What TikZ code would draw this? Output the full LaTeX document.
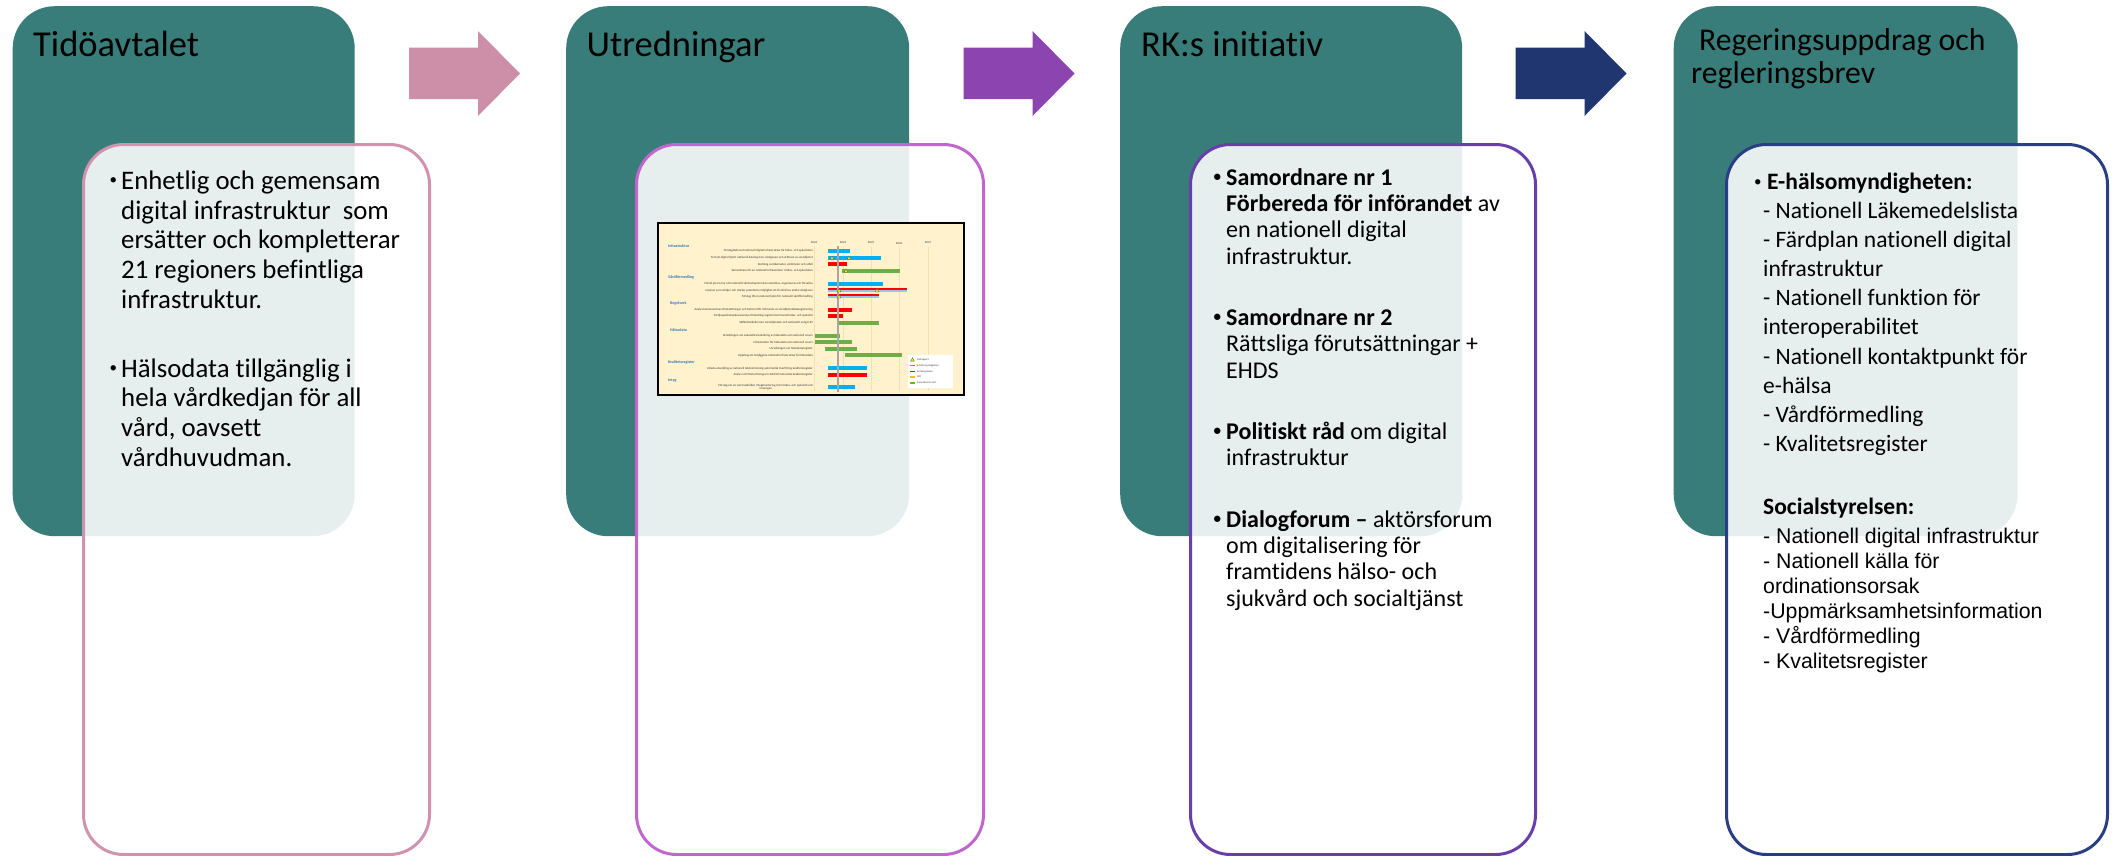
\documentclass[tikz,border=0pt]{standalone}
\usepackage{fontspec}
\setmainfont{Carlito}[Ligatures=NoCommon]
\newfontfamily\arialf{Liberation Sans}[Ligatures=NoCommon]
\definecolor{tealc}{RGB}{56,125,121}
\definecolor{arrA}{RGB}{204,143,167}
\definecolor{arrB}{RGB}{139,68,176}
\definecolor{arrC}{RGB}{32,54,112}
\definecolor{bordA}{RGB}{208,146,172}
\definecolor{bordB}{RGB}{192,102,204}
\definecolor{bordC}{RGB}{104,62,168}
\definecolor{bordD}{RGB}{42,62,132}
\definecolor{chbg}{RGB}{255,242,204}
\definecolor{chgrid}{RGB}{240,224,180}
\definecolor{chblue}{RGB}{0,176,240}
\definecolor{chred}{RGB}{255,0,0}
\definecolor{chgreen}{RGB}{112,173,71}
\definecolor{chlblue}{RGB}{157,195,230}
\definecolor{chhead}{RGB}{46,117,182}
\definecolor{chorange}{RGB}{255,192,0}
\definecolor{chtext}{RGB}{55,55,55}
\newcommand\linesat[6]{\foreach \ln [count=\k] in {#6} {\node[#1] (#2\k) at (#3,{#4+(\k-1)*#5}) {\ln};}}
\newcommand\cbar[4]{\fill[#4] (#1,{#3-2}) rectangle (#2,{#3+2});}
\newcommand\sbar[3]{\fill[chred] (#1,{#3-2}) rectangle (#2,#3);\fill[chlblue] (#1,#3) rectangle (#2,{#3+2});}
\newcommand\ctri[2]{\filldraw[fill=yellow,draw=black!70,line width=.3pt] ({#1-1.8},{#2+1.6}) -- ({#1+1.8},{#2+1.6}) -- (#1,{#2-1.8}) -- cycle;}
\newcommand\smalldot[1]{\raisebox{#1}{\fontsize{15}{15}\selectfont •}}
\begin{document}
\begin{tikzpicture}[x=1pt,y=-1pt,
  tealbox/.style={fill=tealc,draw=none,rounded corners=42pt,minimum height=530pt,anchor=north west,inner sep=0pt},
  card/.style={fill=white,fill opacity=0.88,line width=3pt,rounded corners=40pt,minimum height=710pt,anchor=north west,inner sep=0pt},
  title/.style={font=\fontsize{36.5}{40}\selectfont,anchor=base west,inner sep=0pt},
  titleb/.style={font=\fontsize{31.7}{34}\selectfont,anchor=base west,inner sep=0pt},
  bodyA/.style={font=\fontsize{26.8}{30}\selectfont,anchor=base west,inner sep=0pt},
  bodyB/.style={font=\fontsize{24}{27}\selectfont,anchor=base west,inner sep=0pt},
  bodyC/.style={font=\fontsize{23.5}{27}\selectfont,anchor=base west,inner sep=0pt},
  bodyD/.style={font=\arialf\fontsize{21.3}{24}\selectfont,anchor=base west,inner sep=0pt},
  bul/.style={anchor=base west,inner sep=0pt},
  chh/.style={font=\bfseries\fontsize{4}{4.5}\selectfont,text=chhead,anchor=west,inner sep=0pt},
  chl/.style={font=\fontsize{3.1}{3.4}\selectfont,text=chtext,anchor=east,inner sep=0pt},
  chy/.style={font=\fontsize{3}{3.3}\selectfont,text=chtext,inner sep=0pt},
  chg/.style={font=\fontsize{2.6}{3}\selectfont,text=chtext,anchor=west,inner sep=0pt}]
\fill[white] (0,0) rectangle (2113,855);
\useasboundingbox (0,0) rectangle (2113,855);
% teal panels
\node[tealbox,minimum width=342pt] (teal1) at (12.5,6) {};
\node[tealbox,minimum width=343pt] (teal2) at (566,6) {};
\node[tealbox,minimum width=342pt] (teal3) at (1120,6) {};
\node[tealbox,minimum width=344pt] (teal4) at (1673.5,6) {};
% cards
\node[card,draw=bordA,minimum width=346pt] (card1) at (82,143) {};
\node[card,draw=bordB,minimum width=347pt] (card2) at (635,143) {};
\node[card,draw=bordC,minimum width=345pt] (card3) at (1189,143) {};
\node[card,draw=bordD,minimum width=381pt] (card4) at (1725,143) {};
% block arrows
\foreach \ax/\ac in {409/arrA,963.5/arrB,1515.5/arrC}
  \fill[\ac,shift={(\ax,0)}] (0,47.5) -- (69,47.5) -- (69,31) -- (111,73.5) -- (69,116) -- (69,99) -- (0,99) -- cycle;
% titles
\node[title] (h1) at (33,56) {Tidöavtalet};
\node[title] (h2) at (586.5,56) {Utredningar};
\node[title] (h3) at (1141,56) {RK:s initiativ};
\node[titleb] (h4a) at (1699,50) {Regeringsuppdrag och};
\node[titleb] (h4b) at (1691,83) {regleringsbrev};
% panel 1 text
\node[bul] (p1dot1) at (109.5,189.3) {\smalldot{4.4pt}};
\linesat{bodyA}{pa}{121}{189.3}{29.7}{Enhetlig och gemensam, digital infrastruktur\ \ som, ersätter och kompletterar, 21 regioners befintliga, infrastruktur.}
\node[bul] (p1dot2) at (109.5,377) {\smalldot{4.4pt}};
\linesat{bodyA}{pb}{121}{377}{29.7}{Hälsodata tillgänglig i, hela vårdkedjan för all, {vård, oavsett}, vårdhuvudman.}
% panel 3 text
\node[bul] (p3dot1) at (1213.5,185) {\bfseries\smalldot{3.8pt}};
\linesat{bodyB}{qa}{1226}{185}{26.4}{\textbf{Samordnare nr 1}, \textbf{Förbereda för införandet} av, en nationell digital, infrastruktur.}
\node[bul] (p3dot2) at (1213.5,325.5) {\bfseries\smalldot{3.8pt}};
\linesat{bodyB}{qb}{1226}{325.5}{26.4}{\textbf{Samordnare nr 2}, Rättsliga förutsättningar +, EHDS}
\node[bul] (p3dot3) at (1213.5,439.5) {\bfseries\smalldot{3.8pt}};
\linesat{bodyB}{qc}{1226}{439.5}{26.4}{\textbf{Politiskt råd} om digital, infrastruktur}
\node[bul] (p3dot4) at (1213.5,527) {\bfseries\smalldot{3.8pt}};
\linesat{bodyB}{qd}{1226}{527}{26.4}{\textbf{Dialogforum –} aktörsforum, om digitalisering för, framtidens hälso- och, sjukvård och socialtjänst}
% panel 4 text
\node[bul] (p4dot1) at (1754,189.7) {\smalldot{3.2pt}};
\node[bodyC] (e0) at (1767,189.7) {\textbf{E-hälsomyndigheten:}};
\linesat{bodyC}{ra}{1763}{218}{29.2}{- Nationell Läkemedelslista, - Färdplan nationell digital, infrastruktur, - Nationell funktion för, interoperabilitet, - Nationell kontaktpunkt för, e-hälsa, - Vårdförmedling, - Kvalitetsregister}
\node[bodyC] (s0) at (1763,514.5) {\textbf{Socialstyrelsen:}};
\linesat{bodyD}{rb}{1763}{543.5}{24.9}{- Nationell digital infrastruktur, - Nationell källa för, ordinationsorsak, -Uppmärksamhetsinformation, - Vårdförmedling, - Kvalitetsregister}
% timeline chart (panel 2)
\node[draw=black,line width=2.2pt,fill=chbg,minimum width=306pt,minimum height=172pt,anchor=north west,inner sep=0pt] (chart) at (657,221.5) {};
\foreach \yx/\yl [count=\j] in {814/2023,843/2024,871/2025,899/2026,928/2027}{
  \draw[chgrid,line width=.6pt] (\yx,247) -- (\yx,391);
  \node[chy] (yr\j) at (\yx,243) {\yl};}
\node[chh] (ch1) at (668,245.7) {Infrastruktur};
\node[chh] (ch2) at (668,277) {Vårdförmedling};
\node[chh] (ch3) at (670,303.3) {Regelverk};
\node[chh] (ch4) at (670,330.3) {Hälsodata};
\node[chh] (ch5) at (668,362) {Kvalitetsregister};
\node[chh] (ch6) at (668,380.7) {Intyg};
\node[chl] (cl1) at (813,251) {Förslag Behovet nationell digital infrastruktur för hälso- och sjukvården};
\node[chl] (cl2) at (813,257.7) {Ta fram digital tjänst nationell katalog över vårdgivare och utförare av socialtjänst};
\node[chl] (cl3) at (813,264.3) {Kodning av läkemedel, vårdnivåer och utfall};
\node[chl] (cl4) at (813,270.7) {Samordnare för en nationell infrastruktur i hälso- och sjukvården};
\node[chl] (cl5) at (813,283.7) {Förslå på om hur ett nationellt vårdvalssystem kan utvecklas, organiseras och förvaltas};
\node[chl] (cl6) at (813,290.3) {Insatser som stödjer och stärker patientens möjlighet att få vård hos andra vårdgivare};
\node[chl] (cl7) at (813,296.3) {Förslag till en nationell plan för nationell vårdförmedling};
\node[chl] (cl8) at (813,309.7) {Analys kommunernas förutsättningar och behov inför införande av socialtjänstdataregistrering};
\node[chl] (cl9) at (813,316) {Fördjupad konsekvensanalys förändring register kommunal hälso- och sjukvård};
\node[chl] (cl10) at (813,322.7) {Välfärdsteknik inom socialtjänsten och nationellt enligt LSS};
\node[chl] (cl11) at (813,335.7) {Utredningen om sekundäranvändning av hälsodata som nationell resurs};
\node[chl] (cl12) at (813,342) {Infrastruktur för hälsodata som nationell resurs};
\node[chl] (cl13) at (813,348.7) {Utredningen om hälsodataregister};
\node[chl] (cl14) at (813,355.3) {Uppdrag att möjliggöra nationell infrastruktur för hälsodata};
\node[chl] (cl15) at (813,368.3) {Utreda utveckling av nationell teknisk lösning automatisk överföring kvalitetsregister};
\node[chl] (cl16) at (813,374.7) {Analys och första förslag om stöd till nationella kvalitetsregister};
\node[chl,align=center] (cl17) at (813,387) {Förslag om en sammanhållen intygshantering inom hälso- och sjukvård och\\omsorgen};
\cbar{828}{850}{251}{chblue}
\cbar{828}{881}{257.7}{chblue}
\cbar{828}{847}{264.3}{chred}
\cbar{842}{900}{270.7}{chgreen}
\cbar{828}{883}{283.7}{chblue}
\sbar{828}{907}{290.3}
\sbar{828}{879}{296.3}
\cbar{828}{852}{309.7}{chred}
\cbar{828}{843}{316}{chred}
\cbar{838}{879}{322.7}{chgreen}
\cbar{815}{840}{335.7}{chgreen}
\cbar{815}{852}{342}{chgreen}
\cbar{825}{857}{348.7}{chgreen}
\cbar{845}{902}{355.3}{chgreen}
\cbar{828}{867}{368.3}{chblue}
\cbar{828}{867}{374.7}{chred}
\cbar{828}{855}{387}{chblue}
\draw[black!35,line width=1.3pt] (838,246) -- (838,391.5);
\ctri{832}{257.7}\ctri{849}{257.7}\ctri{846}{270.7}
\ctri{839}{290.3}\ctri{877}{290.3}\ctri{839}{296.3}
% legend
\node[fill=white,minimum width=45pt,minimum height=33pt,anchor=north west,inner sep=0pt] (leg) at (908,355) {};
\ctri{912.5}{359.5}
\fill[chblue] (910,364.7) rectangle (915,366.3);
\fill[chred] (910,370.7) rectangle (915,372.3);
\fill[chorange] (910,376.2) rectangle (915,377.8);
\fill[chgreen] (910,382.2) rectangle (915,383.8);
\node[chg] (lg1) at (917,359.5) {Delrapport};
\node[chg] (lg2) at (917,365.5) {E-hälsomyndigheten};
\node[chg] (lg3) at (917,371.5) {Socialstyrelsen};
\node[chg] (lg4) at (917,377) {IMY};
\node[chg] (lg5) at (917,383) {Samordnaren m.fl.};
\end{tikzpicture}
\end{document}
